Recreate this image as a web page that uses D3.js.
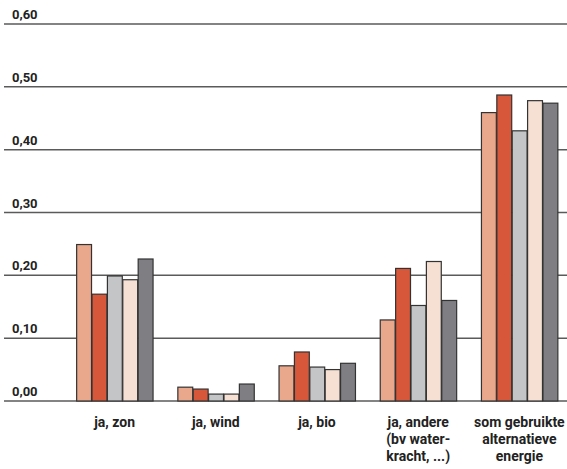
<!DOCTYPE html>
<html>
<head>
<meta charset="utf-8">
<script src="https://cdn.jsdelivr.net/npm/d3@7"></script>
<style>
  body { margin: 0; background: #fff; }
  svg { display: block; }
  text { font-family: Roboto, "Liberation Sans", sans-serif; }
</style>
</head>
<body>
<svg id="chart" width="567" height="469"></svg>
<script>
const categories = [
  ["ja, zon"],
  ["ja, wind"],
  ["ja, bio"],
  ["ja, andere", "(bv water-", "kracht, ...)"],
  ["som gebruikte", "alternatieve", "energie"]
];
const series1 = [0.249, 0.022, 0.056, 0.129, 0.459];
const series2 = [0.170, 0.019, 0.078, 0.211, 0.487];
const series3 = [0.199, 0.011, 0.054, 0.152, 0.430];
const series4 = [0.193, 0.011, 0.050, 0.222, 0.478];
const series5 = [0.226, 0.027, 0.060, 0.160, 0.474];
const seriesList = [series1, series2, series3, series4, series5];
const colors = ["#E9A78B", "#D6573A", "#C4C5C7", "#F6E0D4", "#7F7E83"];
const tickValues = [0, 0.1, 0.2, 0.3, 0.4, 0.5, 0.6];
const tickLabels = ["0,00", "0,10", "0,20", "0,30", "0,40", "0,50", "0,60"];

const svg = d3.select("#chart");
const y = d3.scaleLinear().domain([0, 0.6]).range([401, 24]);
const x = d3.scaleBand().domain(d3.range(categories.length)).range([64, 570])
  .paddingInner(0.24).paddingOuter(0.12);
const xi = d3.scaleBand().domain(d3.range(seriesList.length)).range([0, x.bandwidth()]);

// gridlines
const grid = svg.append("g");
grid.selectAll("line").data(tickValues).join("line")
  .attr("x1", 4).attr("x2", 567)
  .attr("y1", d => y(d)).attr("y2", d => y(d))
  .attr("stroke", "#5a5a5a").attr("stroke-width", 1.5);
grid.selectAll("text").data(tickValues).join("text")
  .attr("x", 12).attr("y", d => y(d) - 5)
  .attr("font-size", "13px").attr("font-weight", 700).attr("fill", "#222")
  .text((d, i) => tickLabels[i]);

// bars
const groups = svg.append("g").selectAll("g").data(categories).join("g")
  .attr("transform", (d, i) => `translate(${x(i)},0)`);
groups.selectAll("rect").data((d, i) => seriesList.map((s, j) => ({ j, v: s[i] })))
  .join("rect")
  .attr("x", d => xi(d.j) + 0.5)
  .attr("width", xi.bandwidth() - 0.5)
  .attr("y", d => y(d.v))
  .attr("height", d => y(0) - y(d.v))
  .attr("fill", d => colors[d.j])
  .attr("stroke", "#333").attr("stroke-width", 1.2);

// category labels
const labels = svg.append("g").selectAll("text").data(categories).join("text")
  .attr("x", (d, i) => x(i) + x.bandwidth() / 2)
  .attr("y", 427)
  .attr("text-anchor", "middle")
  .attr("font-size", "14px").attr("font-weight", 700).attr("fill", "#222");
labels.selectAll("tspan").data(d => d).join("tspan")
  .attr("x", function () { return d3.select(this.parentNode).attr("x"); })
  .attr("dy", (d, i) => i === 0 ? 0 : 17)
  .text(d => d);
</script>
</body>
</html>
